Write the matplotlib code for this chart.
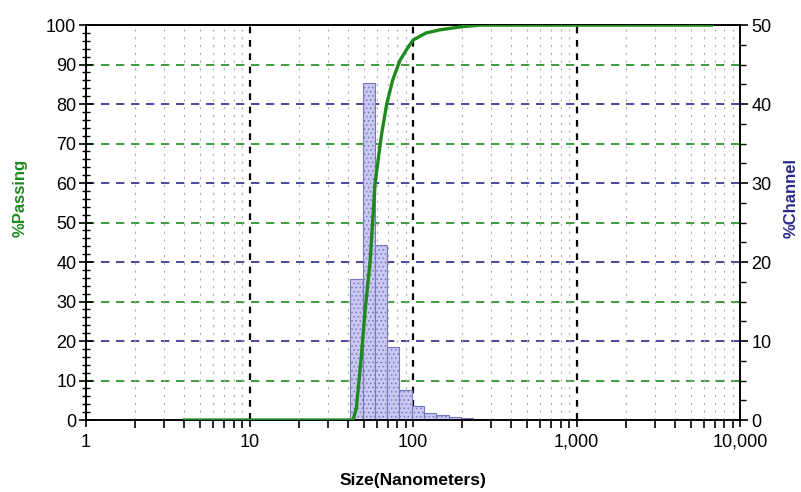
import numpy as np
import matplotlib.pyplot as plt
from matplotlib.ticker import FixedLocator, MultipleLocator, NullFormatter

plt.rcParams['font.family'] = ['Liberation Sans', 'DejaVu Sans']
plt.rcParams['hatch.color'] = '#9a9ad4'
plt.rcParams['hatch.linewidth'] = 0.6

# channel histogram (size bin edges in nm, % in channel)
bin_edges = [41.3, 49.1, 58.4, 69.4, 82.6, 98.2, 116.8, 138.9, 165.2, 196.4, 233.6, 277.8]
channel_pct = [17.8, 42.7, 22.2, 9.2, 3.8, 1.75, 0.9, 0.6, 0.4, 0.3, 0.15]

# cumulative % passing curve
cum_size = [4, 43, 45, 48, 51, 54.6, 58.6, 64, 69, 75, 83, 92, 100, 120, 146, 200, 257, 6700]
cum_pass = [0, 0, 3, 15, 28, 40, 60, 72, 80, 86, 91, 94, 96.2, 98, 98.8, 99.6, 100, 100]

x_ticks = [1, 10, 100, 1000, 10000]
x_labels = ['1', '10', '100', '1,000', '10,000']

green = '#1e8a1e'
navy = '#2a2a8a'

fig = plt.figure(figsize=(8.01, 4.92), dpi=100)
ax2 = fig.add_axes([0.1074, 0.1463, 0.8165, 0.8027])
ax = ax2.twinx()
ax.yaxis.tick_left()
ax.yaxis.set_label_position('left')
ax2.yaxis.tick_right()
ax2.yaxis.set_label_position('right')
ax.set_zorder(ax2.get_zorder() + 1)
ax.patch.set_visible(False)

ax2.set_xscale('log')
ax2.set_xlim(1, 10000)
ax2.set_ylim(0, 50)
ax.set_ylim(0, 100)

# grid lines (drawn behind bars)
for v in range(10, 100, 10):
    c = green if (v // 10) % 2 == 1 else navy
    ax2.axhline(v / 2, color=c, lw=1.2, ls=(0, (5, 4)), zorder=1)
for d in [1, 10, 100, 1000]:
    for m in range(2, 10):
        ax2.axvline(d * m, color='#b0b0b0', lw=0.8, ls=(0, (2, 5)), zorder=1)
for d in [10, 100, 1000]:
    ax2.axvline(d, color='black', lw=1.6, ls=(0, (3, 3)), zorder=1)

# histogram bars
left = np.array(bin_edges[:-1])
width = np.array(bin_edges[1:]) - left
ax2.bar(left, channel_pct, width=width, align='edge', color='#c8c8f0',
        edgecolor='#7878bc', lw=0.8, hatch='....', zorder=2)

# cumulative curve
ax.plot(cum_size, cum_pass, color=green, lw=2.4, zorder=3)

# ticks
ax2.xaxis.set_major_locator(FixedLocator(x_ticks))
ax2.set_xticklabels(x_labels)
ax2.xaxis.set_minor_locator(FixedLocator([d * m for d in [1, 10, 100, 1000] for m in range(2, 10)]))
ax2.xaxis.set_minor_formatter(NullFormatter())
ax2.tick_params(axis='x', which='major', direction='inout', length=10, width=1.2, labelsize=13, pad=5)
ax2.tick_params(axis='x', which='minor', direction='out', length=6, width=1.2)

ax.yaxis.set_major_locator(MultipleLocator(10))
ax.yaxis.set_minor_locator(MultipleLocator(2))
ax.tick_params(axis='y', which='major', direction='inout', length=10, width=1.2, labelsize=13, pad=2)
ax.tick_params(axis='y', which='minor', direction='inout', length=6, width=1.0)

ax2.yaxis.set_major_locator(MultipleLocator(10))
ax2.yaxis.set_minor_locator(MultipleLocator(2.5))
ax2.tick_params(axis='y', which='major', direction='out', length=6, width=1.2, labelsize=13, pad=2)
ax2.tick_params(axis='y', which='minor', direction='out', length=4, width=1.0)

for a in (ax, ax2):
    for s in a.spines.values():
        s.set_linewidth(1.2)

ax.set_ylabel('%Passing', color=green, fontsize=12, fontweight='bold')
ax.yaxis.set_label_coords(-0.089, 0.562)
ax2.set_ylabel('%Channel', color=navy, fontsize=12, fontweight='bold')
ax2.yaxis.set_label_coords(1.066, 0.562)
ax2.set_xlabel('Size(Nanometers)', fontsize=12.5, fontweight='bold')
ax2.xaxis.set_label_coords(0.5, -0.133)

fig.savefig('out.png', dpi=100)
